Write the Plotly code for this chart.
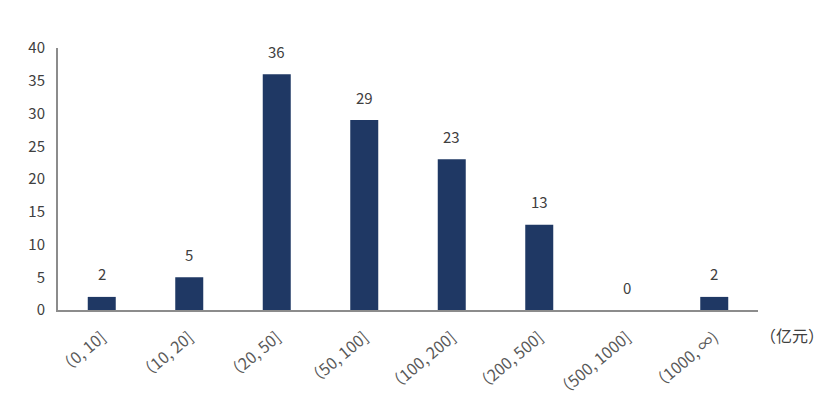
import plotly.graph_objects as go

# 区间分布（亿元）
categories = ['（0, 10]', '（10, 20]', '（20, 50]', '（50, 100]',
              '（100, 200]', '（200, 500]', '（500, 1000]', '（1000, ∞)']
counts = [2, 5, 36, 29, 23, 13, 0, 2]
y_ticks = [0, 5, 10, 15, 20, 25, 30, 35, 40]

bar_color = '#1f3864'
text_color = '#404040'
font_family = 'Noto Sans CJK SC'

fig = go.Figure()

fig.add_trace(go.Bar(
    x=categories,
    y=counts,
    marker_color=bar_color,
    marker_line_width=0,
    hovertemplate='%{x}: %{y}<extra></extra>',
))

# 数据标签放在柱子上方
for c, v in zip(categories, counts):
    fig.add_annotation(
        x=c, y=v, text=str(v), showarrow=False,
        yanchor='middle', yshift=23,
        font=dict(family=font_family, size=15, color=text_color),
    )

fig.add_annotation(
    xref='paper', yref='paper', x=1.049, y=-0.095,
    xanchor='center', yanchor='middle',
    text='（亿元）', showarrow=False,
    font=dict(family=font_family, size=16, color=text_color),
)

# 页面 body 有 8px 边距，这里在边距里扣掉
fig.update_layout(
    width=840, height=416,
    margin=dict(l=50, r=90, t=40, b=114),
    plot_bgcolor='white',
    paper_bgcolor='white',
    bargap=0.68,
    showlegend=False,
    font=dict(family=font_family, size=14, color=text_color),
)

fig.update_xaxes(
    automargin=False,
    showline=True, linecolor='#8c8c8c', linewidth=2,
    showgrid=False, ticks='outside', ticklen=10, tickcolor='rgba(0,0,0,0)',
    tickangle=-40,
    tickfont=dict(size=16, color='#595959'),
)
fig.update_yaxes(
    automargin=False,
    range=[0, 40], tickvals=y_ticks,
    showline=True, linecolor='#8c8c8c', linewidth=2,
    showgrid=False, zeroline=False,
    ticks='outside', ticklen=8, tickcolor='rgba(0,0,0,0)',
    tickfont=dict(size=15, color=text_color),
)

fig.write_html('out.html')
